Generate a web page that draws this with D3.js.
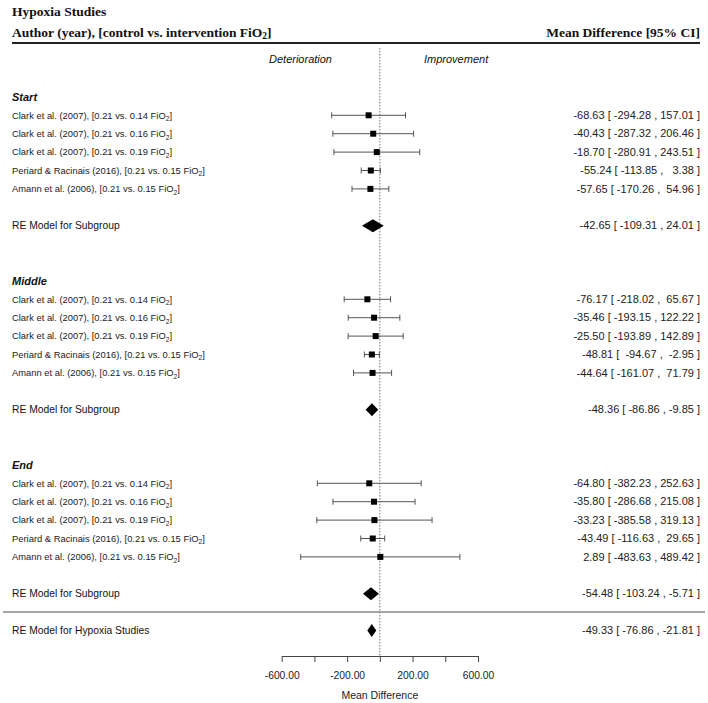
<!DOCTYPE html>
<html>
<head>
<meta charset="utf-8">
<script src="https://cdn.jsdelivr.net/npm/d3@7"></script>
<style>
  html, body { margin: 0; padding: 0; background: #fff; }
  svg { display: block; }
  text { white-space: pre; }
</style>
</head>
<body>
<svg id="chart" width="708" height="703"></svg>
<script>
// ---------- DATA ----------
const groups = ["Start", "Middle", "End"];
const studyLabels = [
  "Clark et al. (2007), [0.21 vs. 0.14 FiO2]",
  "Clark et al. (2007), [0.21 vs. 0.16 FiO2]",
  "Clark et al. (2007), [0.21 vs. 0.19 FiO2]",
  "Periard & Racinais (2016), [0.21 vs. 0.15 FiO2]",
  "Amann et al. (2006), [0.21 vs. 0.15 FiO2]"
];
const startMD  = [-68.63, -40.43, -18.70, -55.24, -57.65];
const startLo  = [-294.28, -287.32, -280.91, -113.85, -170.26];
const startHi  = [157.01, 206.46, 243.51, 3.38, 54.96];
const startRE  = [-42.65, -109.31, 24.01];
const middleMD = [-76.17, -35.46, -25.50, -48.81, -44.64];
const middleLo = [-218.02, -193.15, -193.89, -94.67, -161.07];
const middleHi = [65.67, 122.22, 142.89, -2.95, 71.79];
const middleRE = [-48.36, -86.86, -9.85];
const endMD    = [-64.80, -35.80, -33.23, -43.49, 2.89];
const endLo    = [-382.23, -286.68, -385.58, -116.63, -483.63];
const endHi    = [252.63, 215.08, 319.13, 29.65, 489.42];
const endRE    = [-54.48, -103.24, -5.71];
const overallRE = [-49.33, -76.86, -21.81];
const tickValues = [-600, -400, -200, 0, 200, 400, 600];
const tickLabels = ["-600.00", "", "-200.00", "", "200.00", "", "600.00"];

const groupData = [
  { md: startMD, lo: startLo, hi: startHi, re: startRE },
  { md: middleMD, lo: middleLo, hi: middleHi, re: middleRE },
  { md: endMD, lo: endLo, hi: endHi, re: endRE }
];

// ---------- LAYOUT ----------
const svg = d3.select("#chart");
const x = d3.scaleLinear().domain([-600, 600]).range([281.7, 478]);
const y = d3.scaleLinear().domain([0, 1]).range([115.3, 133.7]); // row index -> px
const sans = "Liberation Sans, Arial, sans-serif";
const serif = "Liberation Serif, Times New Roman, serif";
const f2 = d3.format(".2f");
const fmt = v => f2(v).replace("\u2212", "-");
const annot = (m, l, h, pad) => pad
  ? `${fmt(m)} [ ${fmt(l).padStart(7)} , ${fmt(h).padStart(6)} ]`
  : `${fmt(m)} [ ${fmt(l)} , ${fmt(h)} ]`;

function labelWithSub(sel, label) {
  const parts = label.split("FiO2");
  sel.append("tspan").text(parts[0] + "FiO");
  sel.append("tspan").attr("font-size", "0.7em").attr("dy", 2.5).text("2");
  sel.append("tspan").attr("dy", -2.5).text(parts[1]);
}

// Title / header
svg.append("text").attr("x", 12).attr("y", 16)
  .attr("font-family", serif).attr("font-weight", "bold").attr("font-size", 13.5)
  .attr("fill", "#111").text("Hypoxia Studies");
const hdr = svg.append("text").attr("x", 12).attr("y", 36.5)
  .attr("font-family", serif).attr("font-weight", "bold").attr("font-size", 13.5)
  .attr("fill", "#111");
labelWithSub(hdr, "Author (year), [control vs. intervention FiO2]");
svg.append("text").attr("x", 700).attr("y", 36.5).attr("text-anchor", "end")
  .attr("font-family", serif).attr("font-weight", "bold").attr("font-size", 13.5)
  .attr("fill", "#111").text("Mean Difference [95% CI]");
svg.append("line").attr("x1", 12).attr("x2", 700).attr("y1", 43).attr("y2", 43)
  .attr("stroke", "#222").attr("stroke-width", 2);

// Reference dotted line
svg.append("line").attr("x1", x(0)).attr("x2", x(0)).attr("y1", 48).attr("y2", 656)
  .attr("stroke", "#777").attr("stroke-width", 1).attr("stroke-dasharray", "1.5,1.5");

svg.append("text").attr("x", 332).attr("y", 63).attr("text-anchor", "end")
  .attr("font-family", sans).attr("font-style", "italic").attr("font-size", 11)
  .attr("fill", "#111").text("Deterioration");
svg.append("text").attr("x", 424).attr("y", 63)
  .attr("font-family", sans).attr("font-style", "italic").attr("font-size", 11)
  .attr("fill", "#111").text("Improvement");

function diamond(g, est, lo, hi, row, h) {
  const cy = y(row);
  g.append("path")
    .attr("d", `M${x(lo)},${cy} L${x(est)},${cy - h} L${x(hi)},${cy} L${x(est)},${cy + h} Z`)
    .attr("fill", "#000");
}

groupData.forEach((gd, gi) => {
  const base = gi * 10;
  const g = svg.append("g");
  g.append("text").attr("x", 12).attr("y", y(base - 1) + 4)
    .attr("font-family", sans).attr("font-weight", "bold").attr("font-style", "italic")
    .attr("font-size", 11).attr("fill", "#111").text(groups[gi]);

  gd.md.forEach((m, i) => {
    const row = base + i;
    const cy = y(row);
    const t = g.append("text").attr("x", 12).attr("y", cy + 3.3)
      .attr("font-family", sans).attr("font-size", 9.4).attr("fill", "#222");
    labelWithSub(t, studyLabels[i]);
    g.append("line").attr("x1", x(gd.lo[i])).attr("x2", x(gd.hi[i]))
      .attr("y1", cy).attr("y2", cy).attr("stroke", "#555").attr("stroke-width", 1);
    [gd.lo[i], gd.hi[i]].forEach(v => {
      g.append("line").attr("x1", x(v)).attr("x2", x(v))
        .attr("y1", cy - 3).attr("y2", cy + 3).attr("stroke", "#555").attr("stroke-width", 1);
    });
    g.append("rect").attr("x", x(m) - 3).attr("y", cy - 3).attr("width", 6).attr("height", 6)
      .attr("fill", "#000");
    g.append("text").attr("x", 700).attr("y", cy + 3.6).attr("text-anchor", "end")
      .attr("font-family", sans).attr("font-size", 11).attr("fill", "#222")
      .text(annot(m, gd.lo[i], gd.hi[i], true));
  });

  const reRow = base + 6;
  g.append("text").attr("x", 12).attr("y", y(reRow) + 3.7)
    .attr("font-family", sans).attr("font-size", 10.3).attr("fill", "#111")
    .text("RE Model for Subgroup");
  diamond(g, gd.re[0], gd.re[1], gd.re[2], reRow, 6.5);
  g.append("text").attr("x", 700).attr("y", y(reRow) + 3.6).attr("text-anchor", "end")
    .attr("font-family", sans).attr("font-size", 11).attr("fill", "#222")
    .text(annot(gd.re[0], gd.re[1], gd.re[2], false));
});

// Separator and overall
svg.append("line").attr("x1", 3).attr("x2", 705).attr("y1", y(27)).attr("y2", y(27))
  .attr("stroke", "#888").attr("stroke-width", 1.5);
const og = svg.append("g");
og.append("text").attr("x", 12).attr("y", y(28) + 3.7)
  .attr("font-family", sans).attr("font-size", 10.3).attr("fill", "#111")
  .text("RE Model for Hypoxia Studies");
diamond(og, overallRE[0], overallRE[1], overallRE[2], 28, 6.5);
og.append("text").attr("x", 700).attr("y", y(28) + 3.6).attr("text-anchor", "end")
  .attr("font-family", sans).attr("font-size", 11).attr("fill", "#222")
  .text(annot(overallRE[0], overallRE[1], overallRE[2], false));

// Axis
const axis = d3.axisBottom(x).tickValues(tickValues)
  .tickFormat((d, i) => tickLabels[i]).tickSize(6).tickSizeOuter(0);
const ax = svg.append("g").attr("transform", "translate(0,656)").call(axis);
ax.select(".domain").attr("stroke", "#444");
ax.selectAll(".tick line").attr("stroke", "#444");
ax.selectAll(".tick text").attr("font-family", sans).attr("font-size", 10.3)
  .attr("fill", "#222").attr("dy", 0).attr("y", 23);
svg.append("text").attr("x", x(0)).attr("y", 699).attr("text-anchor", "middle")
  .attr("font-family", sans).attr("font-size", 10.5).attr("fill", "#222")
  .text("Mean Difference");
</script>
</body>
</html>
